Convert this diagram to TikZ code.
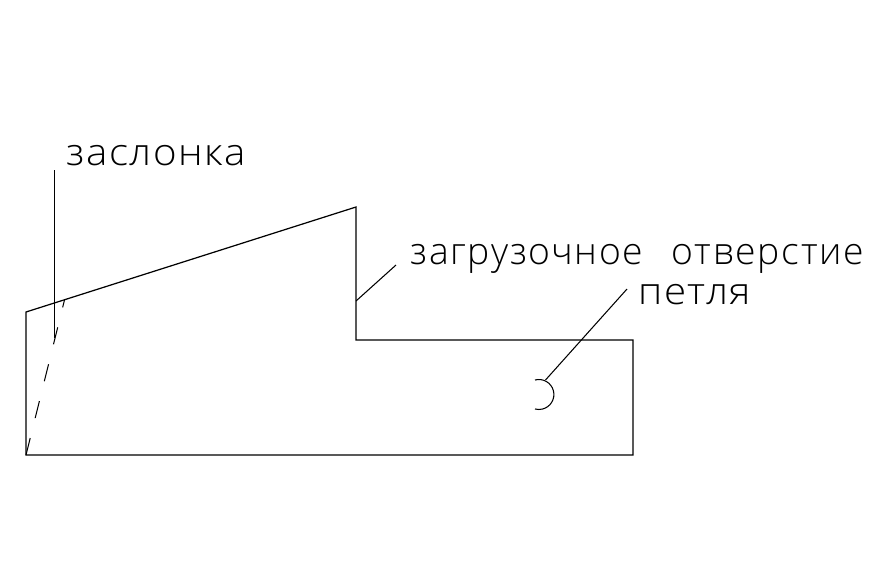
\documentclass[tikz,border=0pt]{standalone}
\usepackage{fontspec}
\newfontfamily\labelfont[LetterSpace=4,FakeStretch=1.08]{Open Sans Light}
\newfontfamily\holefont[LetterSpace=4.4,FakeStretch=1.0]{Open Sans Light}
\usetikzlibrary{positioning}

\begin{document}
\begin{tikzpicture}[
        x=0.01cm, y=-0.01cm,
        label/.style={inner sep=0pt, anchor=base west, font=\labelfont\fontsize{10.6pt}{12pt}\selectfont},
        holelabel/.style={label, font=\holefont\fontsize{10.6pt}{12pt}\selectfont},
        body/.style={draw, line width=0.35pt, line join=miter},
        leader/.style={draw, line width=0.3pt},
        flap/.style={draw, line width=0.3pt, dash pattern=on 1.75mm off 2.05mm}
        ]
        \useasboundingbox (0,0) rectangle (888,563);

        % Nodes
        \node (flapname) [label] at (66,165) {заслонка};
        \node (holename) [holelabel] at (410,264) {загрузочное\hspace{0.76em}отверстие};
        \node (loopname) [label] at (638,304) {петля};

        % Points
        \coordinate (a) at (26,312);
        \coordinate (b) at (356,207);
        \coordinate (c) at (356,340);
        \coordinate (d) at (633,340);
        \coordinate (e) at (633,455);
        \coordinate (f) at (26,455);
        \coordinate (flaptop) at (64.5,300);
        \coordinate (flapknee) at (54.5,338);
        \coordinate (flapstart) at (54.5,170);
        \coordinate (holefoot) at (356,301);
        \coordinate (holeend) at (396,265);
        \coordinate (looptop) at (535,380);
        \coordinate (loopfoot) at (545.5,380);
        \coordinate (loopend) at (627,289);

        % Outline
        \draw [body] (a) -- (b) -- (c) -- (d) -- (e) -- (f) -- cycle;
        \draw [flap] (f) -- (flaptop);
        \draw [leader] (flapstart) -- (flapknee);
        \draw [leader] (holefoot) -- (holeend);
        \draw [leader] (looptop) arc[start angle=-105, delta angle=210, radius=15];
        \draw [leader] (loopfoot) -- (loopend);
    \end{tikzpicture}
\end{document}
